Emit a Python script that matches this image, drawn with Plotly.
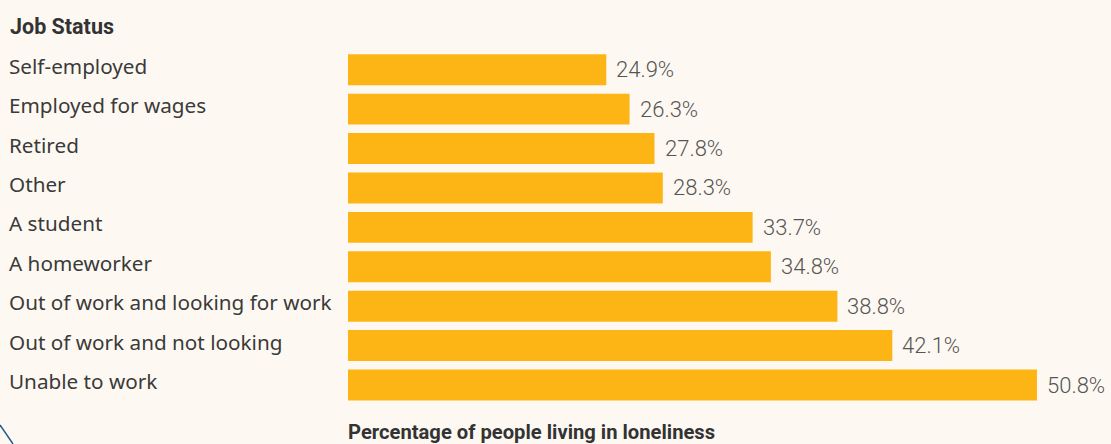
import plotly.graph_objects as go

categories = ["Self-employed", "Employed for wages", "Retired", "Other", "A student",
              "A homeworker", "Out of work and looking for work",
              "Out of work and not looking", "Unable to work"]
values = [24.9, 26.3, 27.8, 28.3, 33.7, 34.8, 38.8, 42.1, 50.8]
value_labels = [f"{v:.1f}%" for v in values]

title_text = "Job Status"
axis_title = "Percentage of people living in loneliness"

BG = "#FDF9F2"
BAR = "#FDB515"

W, H = 1111, 444
ML, MR, MT, MB = 348, 0, 49.5, 39
plot_w = W - ML - MR

fig = go.Figure()
fig.add_trace(go.Bar(
    y=categories, x=values, orientation="h",
    marker=dict(color=BAR, line=dict(width=0)),
    hoverinfo="skip",
))

annotations = []
for c, v, t in zip(categories, values, value_labels):
    annotations.append(dict(
        x=v, y=c, xref="x", yref="y", text=t, showarrow=False,
        xanchor="left", yanchor="middle", xshift=8,
        font=dict(family="Roboto", size=22, color="#555555", weight=300),
    ))
    annotations.append(dict(
        x=(7 - ML) / plot_w, y=c, xref="paper", yref="y", text=c, showarrow=False,
        xanchor="left", yanchor="middle", yshift=4,
        font=dict(family="Noto Sans", size=20.7, color="#3a3a3a"),
    ))

annotations.append(dict(
    x=(8 - ML) / plot_w, y=(H - 26 - MB) / (H - MT - MB), xref="paper", yref="paper",
    text="<b>" + title_text + "</b>", showarrow=False, xanchor="left", yanchor="middle",
    font=dict(family="Roboto", size=21.5, color="#333333"),
))
annotations.append(dict(
    x=(346 - ML) / plot_w, y=-(432 - (H - MB)) / (H - MT - MB), xref="paper", yref="paper",
    text="<b>" + axis_title + "</b>", showarrow=False, xanchor="left", yanchor="middle",
    font=dict(family="Roboto", size=20.2, color="#333333"),
))

fig.update_layout(
    width=W, height=H,
    margin=dict(l=ML, r=MR, t=MT, b=MB, pad=0),
    paper_bgcolor=BG, plot_bgcolor=BG,
    bargap=0.215,
    showlegend=False,
    xaxis=dict(range=[9.37, 55.25], showgrid=False, zeroline=False, showticklabels=False,
               showline=False, ticks="", fixedrange=True),
    yaxis=dict(autorange="reversed", showgrid=False, zeroline=False, showticklabels=False,
               showline=False, ticks="", fixedrange=True),
    annotations=annotations,
    shapes=[dict(type="line", xref="paper", yref="paper",
                 x0=(0 - ML) / plot_w, y0=(H - MB - 425) / (H - MT - MB),
                 x1=(13 - ML) / plot_w, y1=(H - MB - 444) / (H - MT - MB),
                 line=dict(color="#1F5A8C", width=1.5))],
)

fig.write_html("out.html", config={"displayModeBar": False})
